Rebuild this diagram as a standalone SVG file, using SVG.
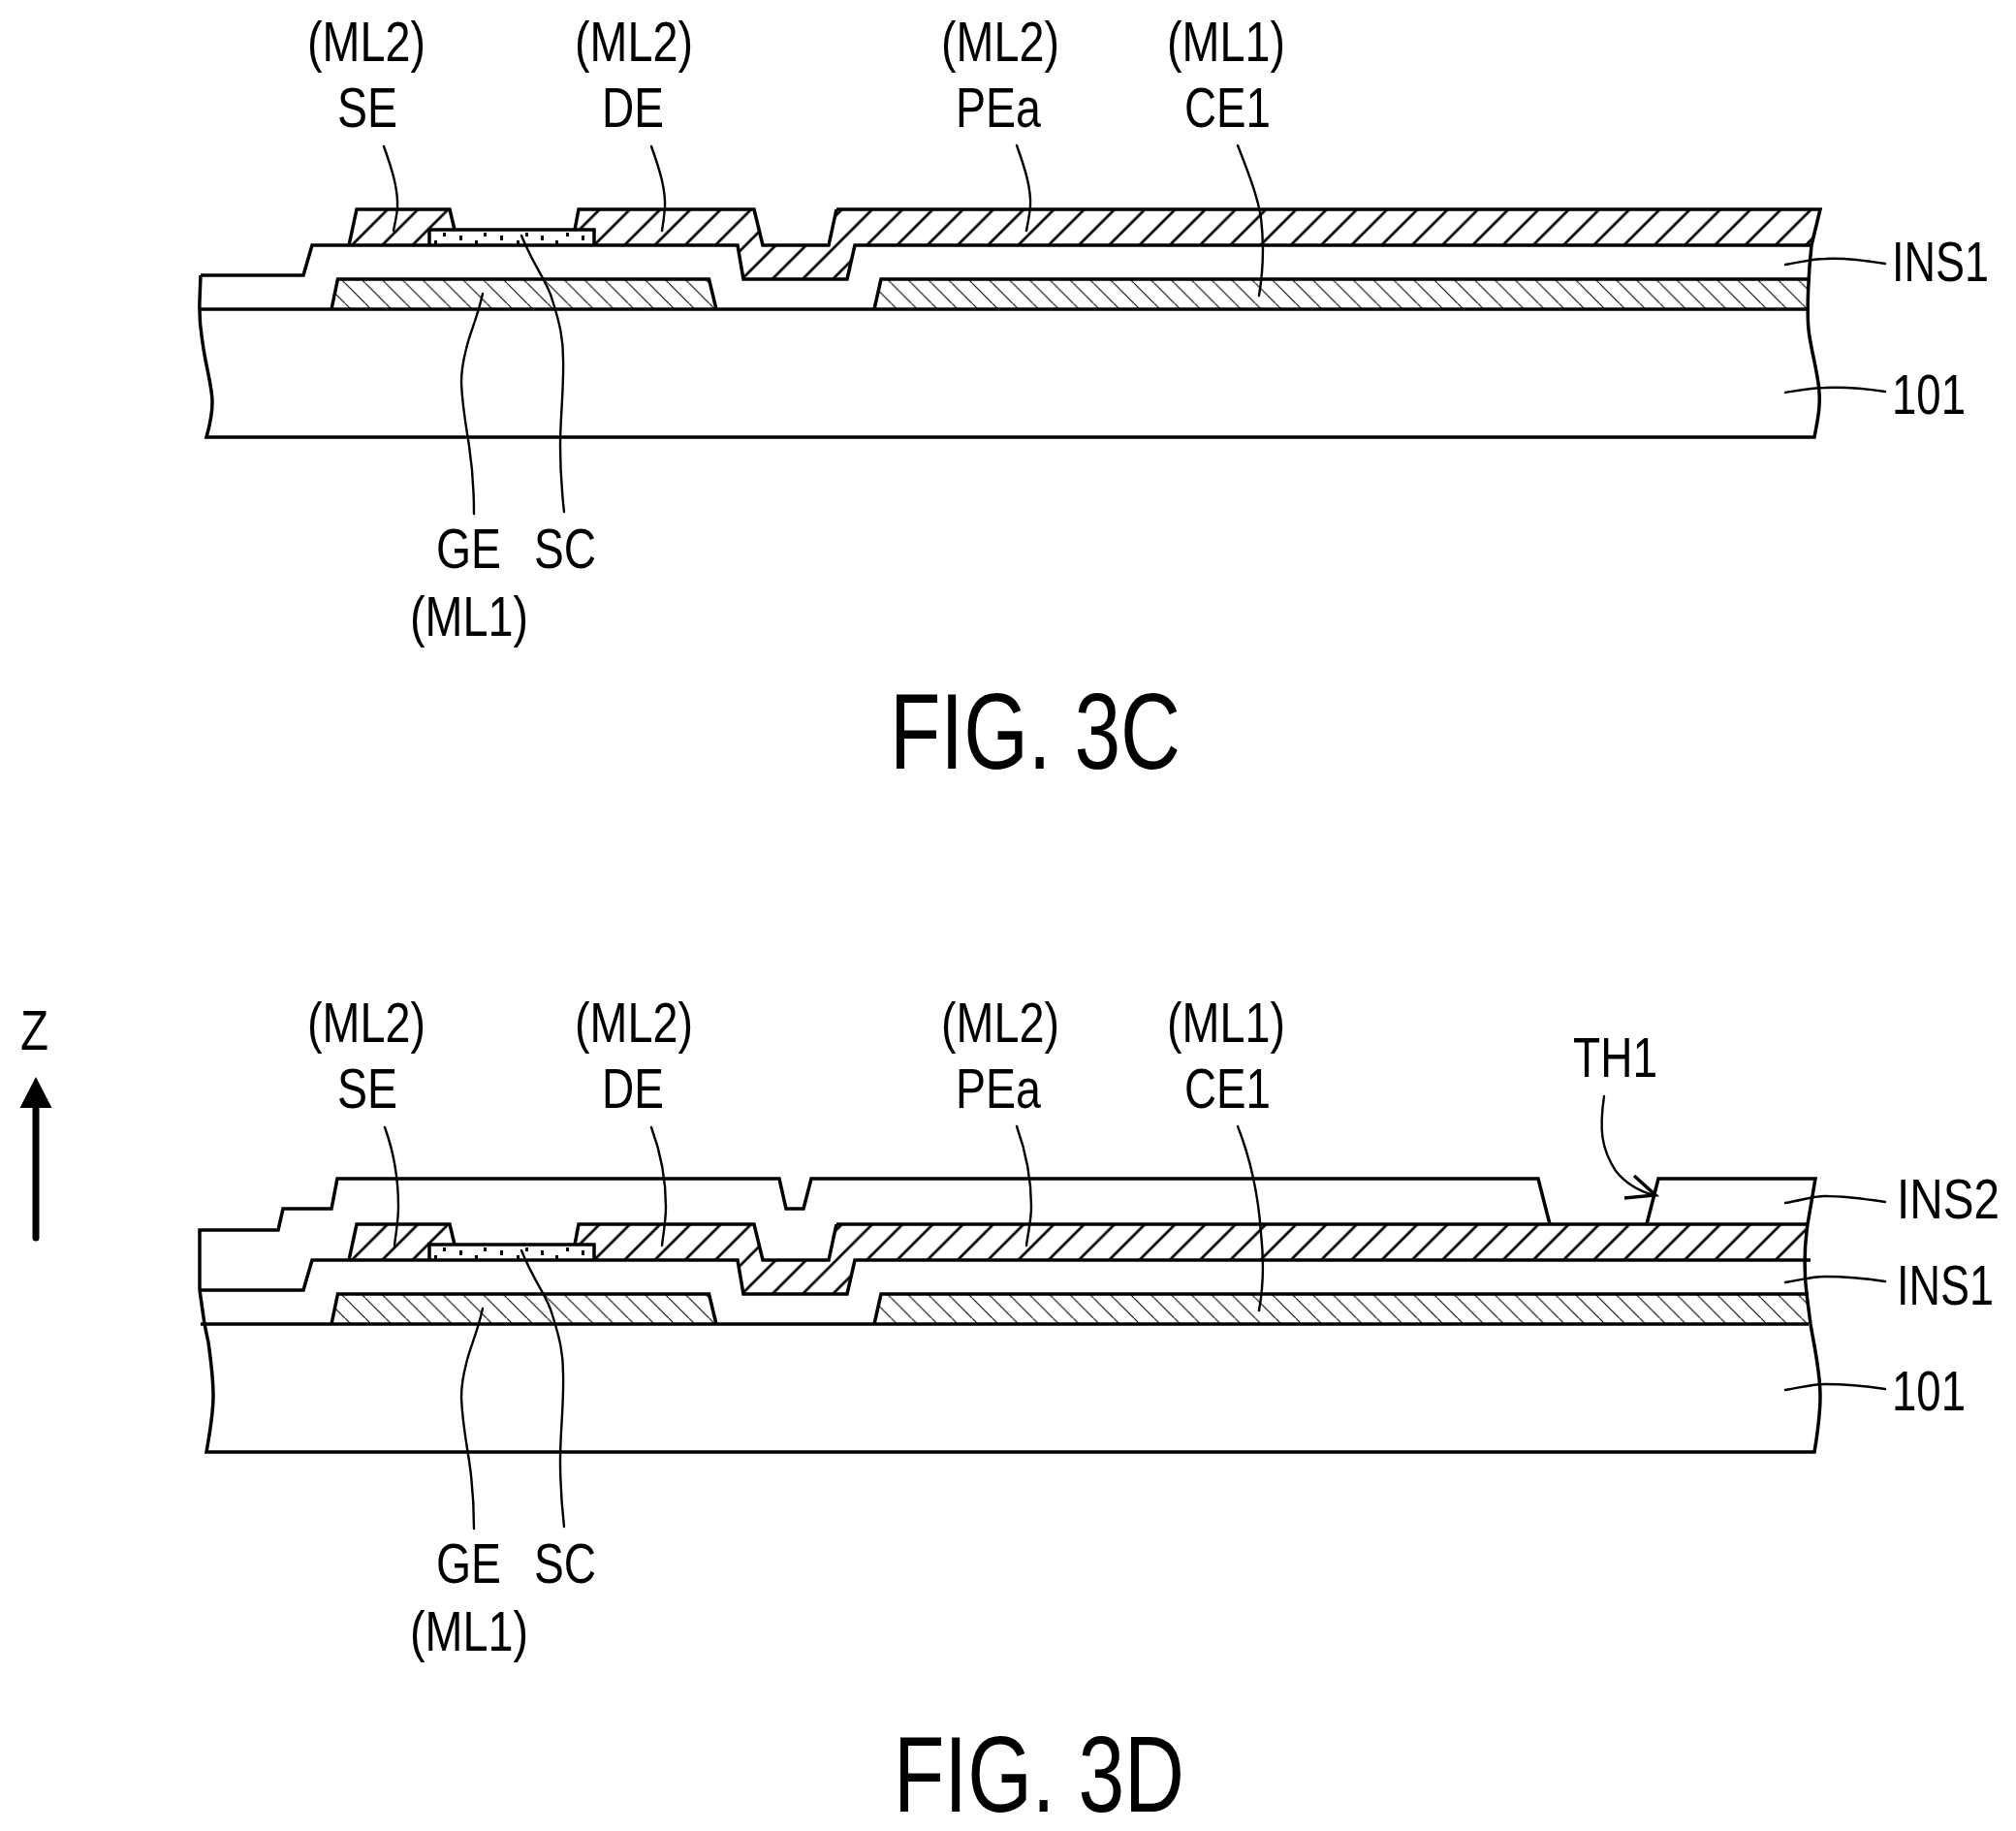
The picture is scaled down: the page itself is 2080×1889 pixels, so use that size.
<svg xmlns="http://www.w3.org/2000/svg" xmlns:xlink="http://www.w3.org/1999/xlink" width="2080" height="1889" viewBox="0 0 2080 1889">
<style>
.o{fill:none;stroke:#000;stroke-width:3.5;stroke-linejoin:miter;stroke-linecap:butt}
.l{fill:none;stroke:#000;stroke-width:2.4;stroke-linecap:round}
.m2{fill:url(#h2);stroke:none}
.m1{fill:url(#h1);stroke:none}
.dot{fill:#000;stroke:none}
text{font-family:"Liberation Sans",Arial,sans-serif;font-size:57px;fill:#000}
.fig{font-size:112px}
</style>
<defs>
<pattern id="h2" patternUnits="userSpaceOnUse" width="31.25" height="31.25" patternTransform="translate(22.25,0)">
<path d="M-5 36.25L36.25 -5M-5 5L5 -5M26.25 36.25L36.25 26.25" stroke="#000" stroke-width="2.7" fill="none"/>
</pattern>
<pattern id="h1" patternUnits="userSpaceOnUse" width="20.87" height="20.87" patternTransform="translate(1.3,0)">
<path d="M-3 -3L23.87 23.87" stroke="#000" stroke-width="1.1" fill="none"/>
</pattern>
<g id="tft">
<path class="m1" d="M342 319L348.5 288H731.5L739 319Z"/>
<path class="o" d="M342 319L348.5 288H731.5L739 319"/>
<path class="m1" d="M902 319L909 288H1866V319Z"/>
<path class="o" d="M902 319L909 288H1866"/>
<path class="m2" d="M360 253L368 216H464L469 237H443V253Z"/>
<path class="o" d="M360 253L368 216H464L469 237"/>
<path class="o" d="M443 253V237H613V253"/>
<g class="dot">
<rect x="457" y="240" width="3" height="4"/><rect x="499" y="240" width="3" height="4"/><rect x="542" y="240" width="3" height="4"/><rect x="584" y="240" width="3" height="4"/>
<rect x="474" y="243" width="3" height="5"/><rect x="516" y="243" width="3" height="5"/><rect x="558" y="243" width="3" height="5"/><rect x="600" y="243" width="3" height="5"/>
<rect x="448" y="248" width="3" height="4"/><rect x="490" y="248" width="3" height="4"/><rect x="533" y="248" width="3" height="4"/><rect x="573" y="248" width="3" height="4"/>
</g>
<path class="o" d="M207 284H313L322 253H761L767 288H874L882 253H1868"/>
<path class="o" d="M593 237L597 216H778L787 253H855L863 216"/>
<path class="o" d="M207 319H1866"/>
<path class="l" d="M538 243C552 278 565 290 570 310C578 335 581 350 581 370C582 400 578 430 578 460C578 490 580 510 582 528"/>
<path class="l" d="M498 303C492 330 484 345 481 360C477 375 476 385 476 395C477 420 481 440 484 460C487 480 489 500 489 530"/>
</g>
</defs>
<rect width="2080" height="1889" fill="#fff"/>

<g id="fig-3c">
<path class="m2" d="M593 237L597 216H778L787 253H855L863 216H1878L1869 253H882L874 288H767L761 253H613V237Z"/>
<use xlink:href="#tft" href="#tft"/>
<path class="o" d="M863 216H1878L1869 253C1866 280 1864 320 1866 340C1868 360 1876 385 1877 405C1878 420 1876 430 1872 451H213C216 440 219 430 219 415C219 400 214 385 210 360C208 345 205 335 206 310L207 284"/>
</g>
<g id="leaders-3c">
<path class="l" d="M396 151C405 176 411 196 410 215C409 225 407 232 406 238"/>
<path class="l" d="M672 151C681 176 687 196 686 215C685 225 684 232 683 238"/>
<path class="l" d="M1049 150C1058 175 1064 195 1063 213C1062 224 1060 232 1059 238"/>
<path class="l" d="M1277 150C1290 183 1298 205 1301 225C1304 250 1304 275 1299 305"/>
<path class="l" d="M1842 273C1860 270 1870 267 1883 267C1905 266 1925 269 1945 272"/>
<path class="l" d="M1842 405C1860 402 1870 400 1883 400C1905 399 1925 401 1945 404"/>
</g>
<g id="labels-3c">
<text x="317" y="63" textLength="122" lengthAdjust="spacingAndGlyphs">(ML2)</text>
<text x="348" y="131" textLength="62" lengthAdjust="spacingAndGlyphs">SE</text>
<text x="593" y="63" textLength="122" lengthAdjust="spacingAndGlyphs">(ML2)</text>
<text x="621" y="131" textLength="64" lengthAdjust="spacingAndGlyphs">DE</text>
<text x="971" y="63" textLength="122" lengthAdjust="spacingAndGlyphs">(ML2)</text>
<text x="986" y="131" textLength="88" lengthAdjust="spacingAndGlyphs">PEa</text>
<text x="1204" y="63" textLength="122" lengthAdjust="spacingAndGlyphs">(ML1)</text>
<text x="1222" y="131" textLength="89" lengthAdjust="spacingAndGlyphs">CE1</text>
<text x="1952" y="290" textLength="100" lengthAdjust="spacingAndGlyphs">INS1</text>
<text x="1952" y="427" textLength="76" lengthAdjust="spacingAndGlyphs">101</text>
<text x="450" y="586" textLength="67" lengthAdjust="spacingAndGlyphs">GE</text>
<text x="551" y="586" textLength="64" lengthAdjust="spacingAndGlyphs">SC</text>
<text x="423" y="656" textLength="122" lengthAdjust="spacingAndGlyphs">(ML1)</text>
<text class="fig" x="918" y="793" textLength="300" lengthAdjust="spacingAndGlyphs">FIG. 3C</text>
</g>

<g id="fig-3d">
<g transform="translate(0,1047)">
<path class="m2" d="M593 237L597 216H778L787 253H855L863 216H1865L1862 253H882L874 288H767L761 253H613V237Z"/>
<use xlink:href="#tft" href="#tft"/>
<path class="o" d="M863 216H1866"/>
</g>
<path class="o" d="M206 1331V1269H287L292 1247H342L348 1216H804L811 1247H829L837 1216H1587L1599 1263"/>
<path class="o" d="M1699 1263L1711 1216H1873L1865 1263C1861 1290 1861 1310 1864 1335L1868 1366C1872 1390 1878 1415 1878 1440C1878 1460 1875 1480 1872 1498H213C216 1480 220 1460 220 1440C220 1420 217 1400 215 1385L211 1366L206 1331"/>
<g id="axis-z">
<path d="M37 1277V1140" fill="none" stroke="#000" stroke-width="7" stroke-linecap="round"/>
<path d="M37 1111L53.500 1143H20.500Z" fill="#000"/>
</g>
</g>
<g id="leaders-3d">
<path class="l" d="M397 1163C405 1185 411 1215 411 1245C411 1260 408 1275 407 1285"/>
<path class="l" d="M672 1163C682 1190 687 1220 687 1245C687 1260 684 1275 683 1285"/>
<path class="l" d="M1049 1162C1058 1187 1064 1215 1064 1245C1064 1260 1060 1275 1059 1285"/>
<path class="l" d="M1277 1162C1290 1195 1298 1230 1301 1272C1304 1300 1304 1325 1299 1352"/>
<path class="l" d="M1842 1241C1860 1238 1870 1234 1883 1234C1905 1234 1925 1237 1945 1240"/>
<path class="l" d="M1842 1323C1860 1320 1870 1317 1883 1317C1905 1317 1925 1319 1945 1322"/>
<path class="l" d="M1842 1434C1860 1431 1870 1428 1883 1428C1905 1428 1925 1430 1945 1433"/>
<path class="l" d="M1655 1131C1650 1165 1652 1185 1667 1208C1678 1222 1692 1229 1706 1233"/>
<path d="M1686 1213L1708 1233L1676 1236" fill="none" stroke="#000" stroke-width="3.5"/>
</g>
<g id="labels-3d">
<text x="21" y="1083" textLength="29" lengthAdjust="spacingAndGlyphs">Z</text>
<text x="317" y="1075" textLength="122" lengthAdjust="spacingAndGlyphs">(ML2)</text>
<text x="348" y="1143" textLength="62" lengthAdjust="spacingAndGlyphs">SE</text>
<text x="593" y="1075" textLength="122" lengthAdjust="spacingAndGlyphs">(ML2)</text>
<text x="621" y="1143" textLength="64" lengthAdjust="spacingAndGlyphs">DE</text>
<text x="971" y="1075" textLength="122" lengthAdjust="spacingAndGlyphs">(ML2)</text>
<text x="986" y="1143" textLength="88" lengthAdjust="spacingAndGlyphs">PEa</text>
<text x="1204" y="1075" textLength="122" lengthAdjust="spacingAndGlyphs">(ML1)</text>
<text x="1222" y="1143" textLength="89" lengthAdjust="spacingAndGlyphs">CE1</text>
<text x="1623" y="1111" textLength="87" lengthAdjust="spacingAndGlyphs">TH1</text>
<text x="1957" y="1257" textLength="106" lengthAdjust="spacingAndGlyphs">INS2</text>
<text x="1957" y="1346" textLength="100" lengthAdjust="spacingAndGlyphs">INS1</text>
<text x="1952" y="1455" textLength="76" lengthAdjust="spacingAndGlyphs">101</text>
<text x="450" y="1633" textLength="67" lengthAdjust="spacingAndGlyphs">GE</text>
<text x="551" y="1633" textLength="64" lengthAdjust="spacingAndGlyphs">SC</text>
<text x="423" y="1703" textLength="122" lengthAdjust="spacingAndGlyphs">(ML1)</text>
<text class="fig" x="922" y="1869" textLength="300" lengthAdjust="spacingAndGlyphs">FIG. 3D</text>
</g>
</svg>
